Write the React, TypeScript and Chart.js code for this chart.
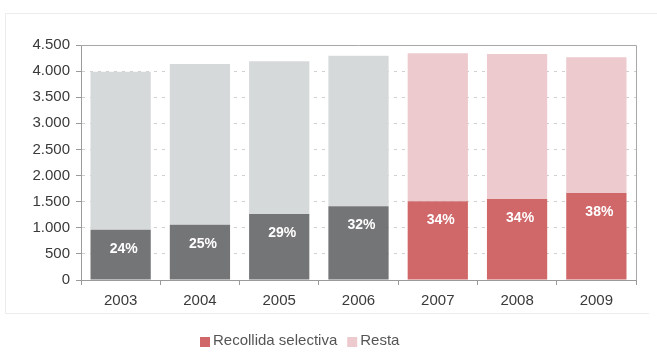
import React, { useEffect, useRef } from "react";
import { Chart, registerables } from "chart.js";

Chart.register(...registerables);

const years = ["2003", "2004", "2005", "2006", "2007", "2008", "2009"];
const selectiva = [962, 1058, 1263, 1410, 1506, 1551, 1667];
const resta = [3028, 3077, 2927, 2885, 2834, 2779, 2598];
const percentLabels = ["24%", "25%", "29%", "32%", "34%", "34%", "38%"];
const yTicks = [0, 500, 1000, 1500, 2000, 2500, 3000, 3500, 4000, 4500];
const legendLabels = ["Recollida selectiva", "Resta"];

const DARK_GREY = "#747577";
const LIGHT_GREY = "#d6d9da";
const RED = "#d0686a";
const PINK = "#eccacd";
const GREY_YEARS = 4;

const fmt = (v: number) => {
  const s = String(Math.round(v));
  return s.length > 3 ? s.slice(0, s.length - 3) + "." + s.slice(s.length - 3) : s;
};

const decorPlugin = {
  id: "decor",
  beforeDraw(chart: any) {
    const { ctx } = chart;
    ctx.save();
    ctx.fillStyle = "#ffffff";
    ctx.fillRect(0, 0, chart.width, chart.height);
    ctx.strokeStyle = "#ececec";
    ctx.lineWidth = 1;
    ctx.beginPath();
    ctx.moveTo(5.5, 313.5);
    ctx.lineTo(5.5, 13.5);
    ctx.lineTo(chart.width, 13.5);
    ctx.moveTo(5.5, 313.5);
    ctx.lineTo(chart.width - 8, 313.5);
    ctx.stroke();
    ctx.restore();
  },
  afterDraw(chart: any) {
    const { ctx, chartArea } = chart;
    ctx.save();
    // top & right frame of plot area
    ctx.strokeStyle = "#a8a8a8";
    ctx.lineWidth = 1;
    ctx.beginPath();
    ctx.moveTo(chartArea.left, Math.round(chartArea.top) + 0.5);
    ctx.lineTo(Math.round(chartArea.right) + 0.5, Math.round(chartArea.top) + 0.5);
    ctx.lineTo(Math.round(chartArea.right) + 0.5, chartArea.bottom);
    ctx.stroke();

    // percentage labels
    const meta = chart.getDatasetMeta(0);
    ctx.fillStyle = "#ffffff";
    ctx.font = "bold 14px 'Liberation Sans', Arial, sans-serif";
    ctx.textAlign = "center";
    ctx.textBaseline = "middle";
    meta.data.forEach((bar: any, i: number) => {
      ctx.fillText(percentLabels[i], bar.x + 3, bar.y + 19);
    });

    // legend
    ctx.font = "15px 'Liberation Sans', Arial, sans-serif";
    ctx.textAlign = "left";
    const ly = 341;
    const colors = [RED, PINK];
    let x = 200;
    legendLabels.forEach((lab, i) => {
      ctx.fillStyle = colors[i];
      ctx.fillRect(x, ly - 4, 10, 10);
      ctx.fillStyle = "#555555";
      ctx.fillText(lab, x + 13, ly);
      x += 13 + ctx.measureText(lab).width + 10;
    });
    ctx.restore();
  },
};

export default function App() {
  const ref = useRef<HTMLCanvasElement | null>(null);

  useEffect(() => {
    if (!ref.current) return;
    const chart = new Chart(ref.current, {
      type: "bar",
      data: {
        labels: years,
        datasets: [
          {
            label: legendLabels[0],
            data: selectiva,
            backgroundColor: years.map((_, i) => (i < GREY_YEARS ? DARK_GREY : RED)),
            borderWidth: 0,
            barPercentage: 0.76,
            categoryPercentage: 1,
          },
          {
            label: legendLabels[1],
            data: resta,
            backgroundColor: years.map((_, i) => (i < GREY_YEARS ? LIGHT_GREY : PINK)),
            borderWidth: 0,
            barPercentage: 0.76,
            categoryPercentage: 1,
          },
        ],
      },
      plugins: [decorPlugin],
      options: {
        responsive: false,
        animation: false,
        maintainAspectRatio: false,
        layout: { padding: { top: 45, right: 21, left: 0, bottom: 0 } },
        plugins: {
          legend: { display: false },
          tooltip: { enabled: false },
        },
        scales: {
          x: {
            stacked: true,
            offset: true,
            grid: {
              display: true,
              offset: true,
              drawOnChartArea: false,
              drawTicks: true,
              tickLength: 5,
              color: "#9a9a9a",
            },
            border: { display: true, color: "#9a9a9a", width: 1 },
            ticks: {
              color: "#3a3a3a",
              padding: 7,
              font: { size: 15, family: "'Liberation Sans', Arial, sans-serif" },
            },
            afterFit: (scale: any) => {
              scale.height = 78;
            },
          },
          y: {
            stacked: true,
            min: 0,
            max: 4500,
            afterBuildTicks: (scale: any) => {
              scale.ticks = yTicks.map((v) => ({ value: v }));
            },
            grid: {
              display: true,
              drawOnChartArea: true,
              drawTicks: true,
              tickLength: 5,
              color: (c: any) => (c.tick && c.tick.value === 0 ? "rgba(0,0,0,0)" : "#cfcfcf"),
              tickColor: "#9a9a9a",
            },
            border: { display: true, color: "#9a9a9a", width: 1, dash: [3, 5] },
            ticks: {
              color: "#3a3a3a",
              padding: 6,
              font: { size: 15, family: "'Liberation Sans', Arial, sans-serif" },
              callback: (v: any) => fmt(Number(v)),
            },
            afterFit: (scale: any) => {
              scale.width = 81;
            },
          },
        },
      },
    });
    return () => chart.destroy();
  }, []);

  return (
    <div style={{ position: "absolute", left: 0, top: 0, width: 657, height: 358 }}>
      <canvas ref={ref} width={657} height={358} />
    </div>
  );
}
